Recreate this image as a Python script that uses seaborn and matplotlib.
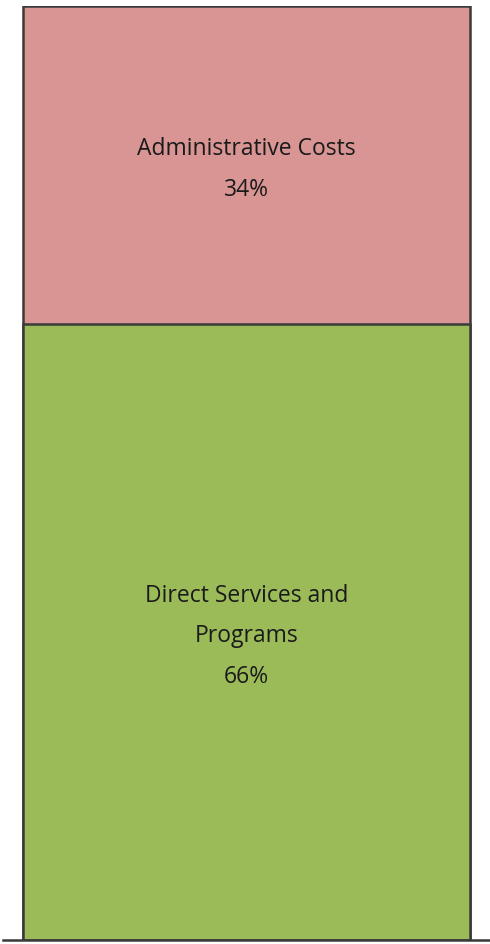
import numpy as np
import pandas as pd
import seaborn as sns
import matplotlib.pyplot as plt

# one stacked column: bottom segment first
segments = ["Direct Services and\nPrograms", "Administrative Costs"]
shares = [66, 34]
colors = ["#9BBB59", "#D99594"]

sns.set_style("white")
plt.rcParams['font.family'] = ['Open Sans', 'DejaVu Sans']

fig = plt.figure(figsize=(4.9, 9.44), dpi=100)
ax = fig.add_axes([3 / 490, 4 / 944, 487 / 490, 934 / 944])

# draw cumulative totals from the top down so each segment shows
cum = np.cumsum(shares)
df = pd.DataFrame({"col": [""] * len(shares), "top": cum, "seg": segments})
for i in range(len(shares) - 1, -1, -1):
    sns.barplot(data=df.iloc[[i]], x="col", y="top", color=colors[i],
                width=0.918, edgecolor="#3a3a3a", linewidth=1.8,
                saturation=1, ax=ax)

bottoms = cum - np.array(shares)
for seg, s, b in zip(segments, shares, bottoms):
    ax.text(0, b + s / 2 - 0.5, f"{seg}\n{s}%", ha="center", va="center",
            fontsize=16.5, color="#1a1a1a", linespacing=1.9)

ax.set_xlim(-0.5, 0.5)
ax.set_ylim(0, 100)
ax.set_xlabel("")
ax.set_ylabel("")
ax.set_xticks([])
ax.set_yticks([])
for side in ["top", "left", "right"]:
    ax.spines[side].set_visible(False)
ax.spines["bottom"].set_color("#3a3a3a")
ax.spines["bottom"].set_linewidth(1.8)

fig.savefig("out.png", dpi=100)
